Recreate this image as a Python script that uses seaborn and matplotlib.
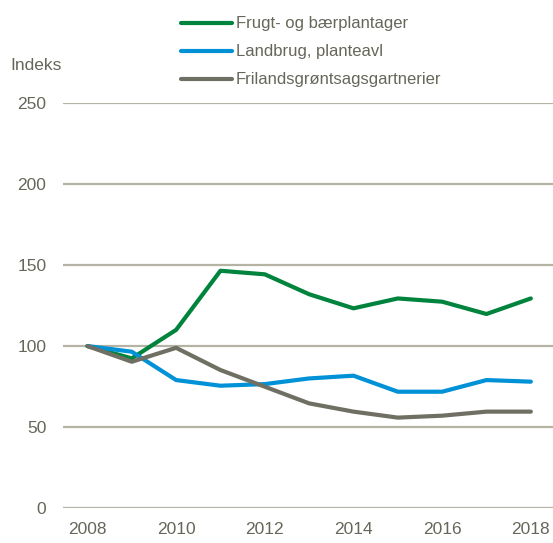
import pandas as pd
import matplotlib.pyplot as plt
import seaborn as sns

# Data (index, 2008 = 100)
years = [2008, 2009, 2010, 2011, 2012, 2013, 2014, 2015, 2016, 2017, 2018]
frugt = [100, 92.4, 110, 146.5, 144.3, 132, 123.3, 129.4, 127.4, 119.8, 129.4]
landbrug = [100, 96.5, 79, 75.5, 76.5, 80, 81.7, 71.8, 71.8, 79, 78]
friland = [100, 90.3, 98.9, 85.2, 74.9, 64.6, 59.5, 55.8, 57, 59.5, 59.5]
series_names = ["Frugt- og bærplantager", "Landbrug, planteavl", "Frilandsgrøntsagsgartnerier"]
y_ticks = [0, 50, 100, 150, 200, 250]
x_ticks = [2008, 2010, 2012, 2014, 2016, 2018]

COLORS = ["#00843D", "#0091D6", "#706F63"]
GRID = "#B5B3A3"
TEXT = "#66665A"

df = pd.DataFrame({
    "year": years * 3,
    "value": frugt + landbrug + friland,
    "series": [series_names[0]] * len(years) + [series_names[1]] * len(years)
              + [series_names[2]] * len(years),
})

sns.set_style("white")
plt.rcParams["font.family"] = ["Liberation Sans", "DejaVu Sans"]

fig = plt.figure(figsize=(5.53, 5.43), dpi=100)
ax = fig.add_axes([0.114, 0.0645, 0.886, 0.7455])

sns.lineplot(data=df, x="year", y="value", hue="series", palette=COLORS,
             linewidth=3, ax=ax, legend=False)

ax.set_xlim(2007.45, 2018.5)
ax.set_ylim(0, 250)
ax.set_yticks(y_ticks)
ax.set_xticks(x_ticks)
ax.set_xlabel("")
ax.set_ylabel("")
ax.tick_params(axis="both", length=0, labelsize=12.5, labelcolor=TEXT)
ax.tick_params(axis="y", pad=12)
ax.tick_params(axis="x", pad=10)
for s in ax.spines.values():
    s.set_visible(False)
ax.grid(False)
for v in y_ticks:
    ax.axhline(v, color=GRID, linewidth=1.6, zorder=0)

fig.text(0.018, 0.88, "Indeks", fontsize=12.5, color=TEXT, va="center")

# Legend drawn manually to match the layout
leg_y = [0.957, 0.906, 0.854]
for name, c, yy in zip(series_names, COLORS, leg_y):
    fig.add_artist(plt.Line2D([0.327, 0.42], [yy, yy], color=c, linewidth=3,
                              transform=fig.transFigure))
    fig.text(0.426, yy, name, fontsize=12, color=TEXT, va="center")

plt.savefig("out.png", dpi=100)
plt.close()
